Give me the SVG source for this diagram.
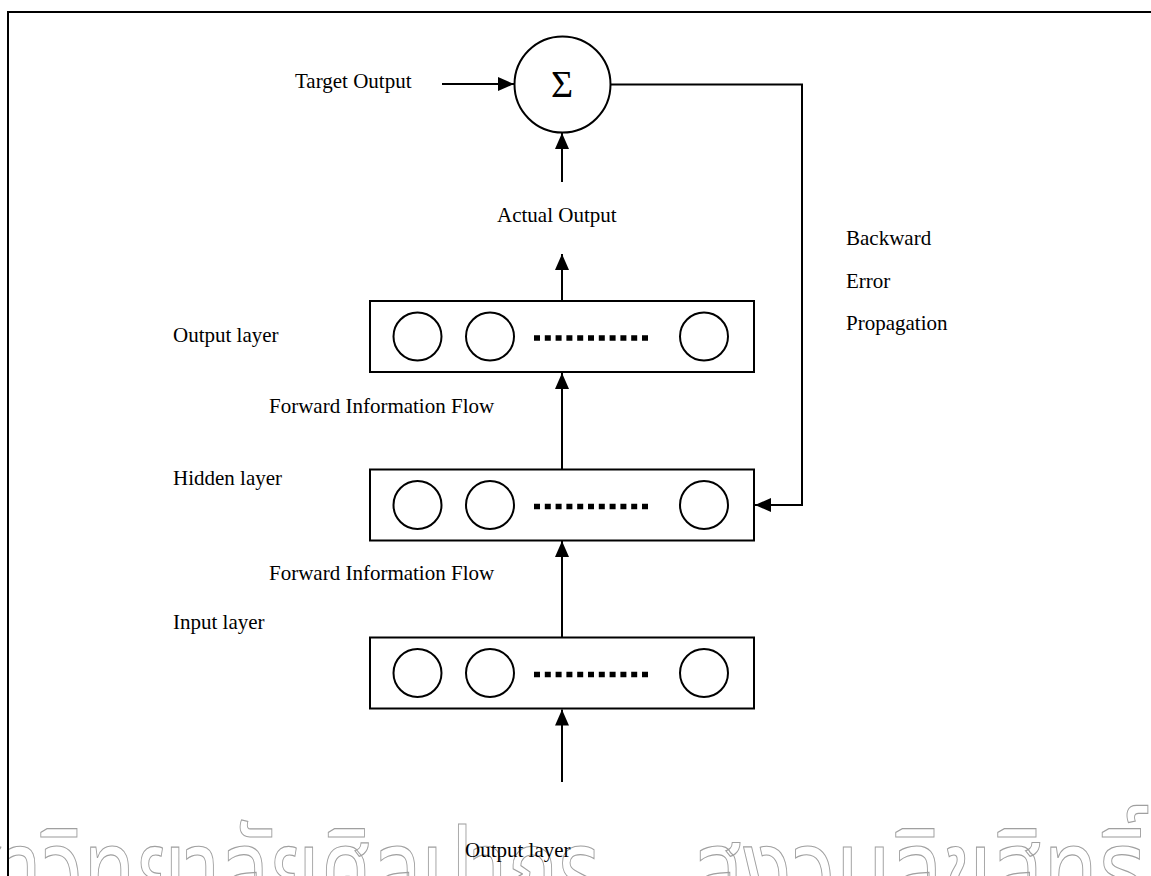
<svg xmlns="http://www.w3.org/2000/svg" width="1151" height="876" viewBox="0 0 1151 876">
  <style>
    .lbl { font-family: "Liberation Serif", "Times New Roman", serif; font-size: 21px; fill: #000; }
    .sig { font-family: "Liberation Serif", "Times New Roman", serif; font-size: 38px; fill: #000; }
    .box { fill: #fff; stroke: #000; stroke-width: 2; }
    .unit { fill: none; stroke: #000; stroke-width: 2; }
    .dots { stroke: #000; stroke-width: 5.5; stroke-dasharray: 6 4.8; fill: none; }
    .wire { fill: none; stroke: #000; stroke-width: 2; }
    .wm { font-family: "Noto Sans Thai", "Loma", "Garuda", "DejaVu Sans", sans-serif; font-size: 118px; fill: none; stroke: #a0a0a0; stroke-width: 1.2; }
  </style>
  <defs>
    <marker id="head" viewBox="0 0 16 14" refX="16" refY="7" markerWidth="16" markerHeight="14" markerUnits="userSpaceOnUse" orient="auto">
      <path d="M0,0 L16,7 L0,14 Z" fill="#000"/>
    </marker>
  </defs>

  <rect width="1151" height="876" fill="#fff"/>

  <!-- watermark -->
  <g id="watermark">
    <text class="wm" x="-95" y="912" textLength="695" lengthAdjust="spacingAndGlyphs">มหาวิทยาลัยศิลปากร</text>
    <text class="wm" x="692" y="912" textLength="455" lengthAdjust="spacingAndGlyphs">สงวนลิขสิทธิ์</text>
  </g>

  <!-- page frame -->
  <rect x="8" y="12" width="1170" height="900" fill="none" stroke="#000" stroke-width="2"/>

  <!-- connectors -->
  <g id="connectors">
    <line class="wire" x1="442" y1="84" x2="514" y2="84" marker-end="url(#head)"/>
    <line class="wire" x1="562" y1="182" x2="562" y2="133" marker-end="url(#head)"/>
    <line class="wire" x1="562" y1="301" x2="562" y2="254" marker-end="url(#head)"/>
    <line class="wire" x1="562" y1="469" x2="562" y2="373" marker-end="url(#head)"/>
    <line class="wire" x1="562" y1="637" x2="562" y2="541" marker-end="url(#head)"/>
    <line class="wire" x1="562" y1="782" x2="562" y2="709.5" marker-end="url(#head)"/>
    <polyline class="wire" points="610.5,84.5 802,84.5 802,505 755,505" marker-end="url(#head)"/>
  </g>

  <!-- summing junction -->
  <g id="sum">
    <circle cx="562.5" cy="84.5" r="48" fill="#fff" stroke="#000" stroke-width="2"/>
    <text class="sig" x="562" y="97" text-anchor="middle">Σ</text>
  </g>

  <g id="target-label"><text class="lbl" x="295" y="88">Target Output</text></g>
  <g id="actual-label"><text class="lbl" x="497" y="221.5">Actual Output</text></g>

  <!-- output layer -->
  <g id="output-layer">
    <rect class="box" x="370" y="301" width="384" height="71"/>
    <circle class="unit" cx="417.5" cy="336.5" r="24"/>
    <circle class="unit" cx="490" cy="336.5" r="24"/>
    <line class="dots" x1="534" y1="338" x2="648" y2="338"/>
    <circle class="unit" cx="704" cy="336.5" r="24"/>
  </g>

  <!-- hidden layer -->
  <g id="hidden-layer">
    <rect class="box" x="370" y="469.5" width="384" height="71"/>
    <circle class="unit" cx="417.5" cy="505" r="24"/>
    <circle class="unit" cx="490" cy="505" r="24"/>
    <line class="dots" x1="534" y1="506.5" x2="648" y2="506.5"/>
    <circle class="unit" cx="704" cy="505" r="24"/>
  </g>

  <!-- input layer -->
  <g id="input-layer">
    <rect class="box" x="370" y="637.5" width="384" height="71"/>
    <circle class="unit" cx="417.5" cy="673" r="24"/>
    <circle class="unit" cx="490" cy="673" r="24"/>
    <line class="dots" x1="534" y1="674.5" x2="648" y2="674.5"/>
    <circle class="unit" cx="704" cy="673" r="24"/>
  </g>

  <!-- side labels -->
  <g id="labels">
    <text class="lbl" x="173" y="342">Output layer</text>
    <text class="lbl" x="269" y="413">Forward Information Flow</text>
    <text class="lbl" x="173" y="485">Hidden layer</text>
    <text class="lbl" x="269" y="580">Forward Information Flow</text>
    <text class="lbl" x="173" y="629">Input layer</text>
    <text class="lbl" x="846" y="245">Backward</text>
    <text class="lbl" x="846" y="288">Error</text>
    <text class="lbl" x="846" y="330">Propagation</text>
    <text class="lbl" x="465" y="857">Output layer</text>
  </g>
</svg>
